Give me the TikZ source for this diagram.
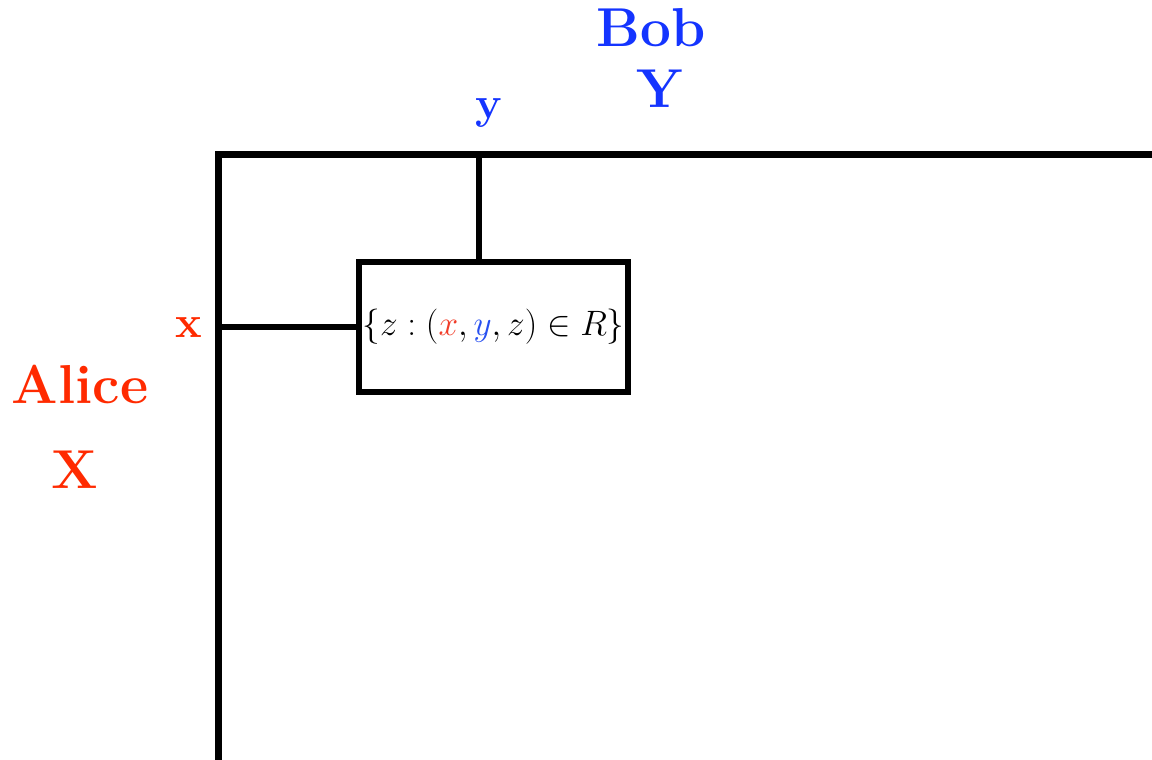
\RequirePackage{fix-cm}
\documentclass[tikz,border=0pt]{standalone}
\usepackage{graphicx}
\definecolor{alicered}{RGB}{255,42,0}
\definecolor{bobblue}{RGB}{20,52,255}
\definecolor{mathred}{RGB}{240,60,40}
\definecolor{mathblue}{RGB}{40,80,240}
\begin{document}
\begin{tikzpicture}[x=1bp,y=-1bp,
  lbl/.style={inner sep=0pt,anchor=base,font=\bfseries\fontsize{55}{60}\selectfont},
  smalllbl/.style={inner sep=0pt,anchor=base,font=\bfseries\fontsize{45}{50}\selectfont},
  outer/.style={line width=7bp,draw=black},
  wire/.style={line width=6bp,draw=black},
  relbox/.style={draw=black,line width=6bp,minimum width=269bp,minimum height=130bp,inner sep=0pt,font=\fontsize{30}{36}\selectfont}]
\useasboundingbox (0,0) rectangle (1152,760);
\clip (0,0) rectangle (1152,760);
\coordinate (ol) at (218,154);
\draw[outer] (1200,154) -- (ol) -- (218,800);
\coordinate (ytop) at (479,154);
\coordinate (xleft) at (218,326.5);
\node[relbox] (rel) at (493.5,327) {\scalebox{1.18}{$\{z:(\textcolor{mathred}{x},\textcolor{mathblue}{y},z)\in R\}$}};
\draw[wire] (ytop) -- (rel.north -| ytop);
\draw[wire] (xleft) -- (rel.west |- xleft);
\node[lbl,text=bobblue] (bob) at (651,47) {Bob};
\node[lbl,text=bobblue] (bigy) at (660,108) {Y};
\node[smalllbl,text=bobblue] (smy) at (489,118) {y};
\node[smalllbl,text=alicered] (smx) at (189,337) {x};
\node[lbl,text=alicered] (alice) at (80,403) {Alice};
\node[lbl,text=alicered] (bigx) at (75,488) {X};
\end{tikzpicture}
\end{document}
